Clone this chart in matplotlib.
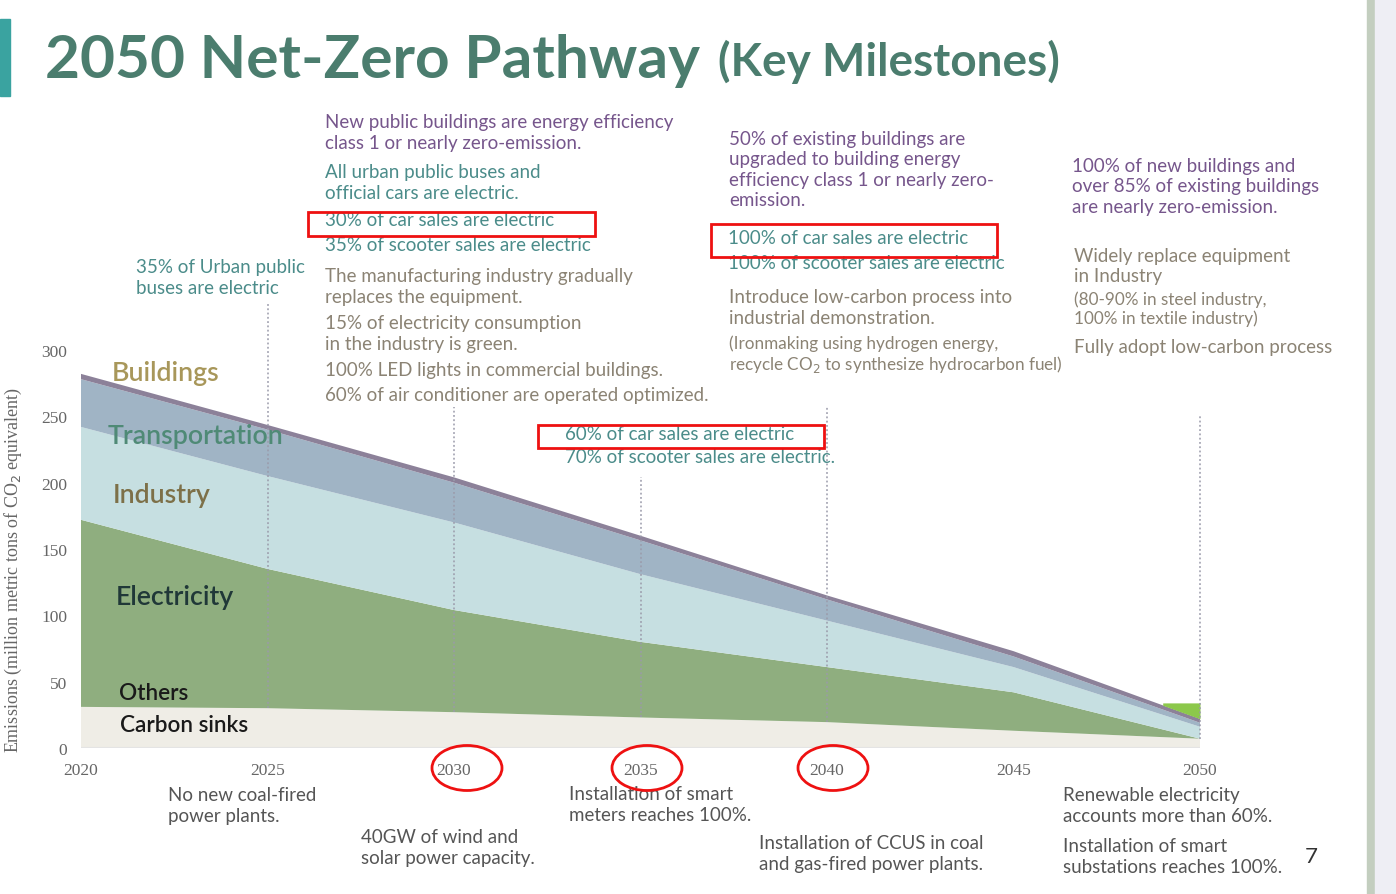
"""
2050 Net-Zero Pathway (key milestones) - stacked emissions by sector
"""

import matplotlib
matplotlib.use("Agg")
import matplotlib.pyplot as plt
import matplotlib.patches as mpatches
import numpy as np

W, H = 1396, 895

# ---- data (million metric tons CO2e) ----
years = [2020, 2025, 2030, 2035, 2040, 2045, 2050]
carbon_sinks   = [31, 30, 27, 23, 19.5, 13, 7]
electricity    = [141, 105, 77, 57, 41.5, 29, 0]
industry       = [70, 70, 66, 51, 35, 19, 9]
transportation = [36, 35, 30, 25.5, 16, 8, 3]
buildings      = [4, 3.5, 4, 3.5, 3, 4, 3]
sink_patch_top = 34          # bright green offset block at 2050
sink_patch_from = 2049

yticks = [0, 50, 100, 150, 200, 250, 300]
milestone_years = [2025, 2030, 2035, 2040, 2050]
milestone_tops  = [335, 257, 204, 257, 252]

COLORS = {
    "sinks":     "#efede6",
    "elec":      "#8fae7f",
    "industry":  "#c6dfe1",
    "transport": "#a0b4c5",
    "buildings": "#8c8199",
    "patch":     "#8cc84b",
    "title":     "#4b7d6e",
    "purple":    "#76568c",
    "teal":      "#4b8c8a",
    "grey":      "#8b8374",
    "dark":      "#555555",
    "red":       "#ee1111",
}

SANS = ["Lato", "DejaVu Sans"]
SERIF = ["Liberation Serif", "DejaVu Serif"]
NOTE_SIZE = 13.5
SMALL_SIZE = 12.3


def px(x, y):
    return x / W, 1 - y / H


def note(x, y, s, color, size=NOTE_SIZE, ls=1.27, **kw):
    fig.text(*px(x, y), s, color=color, fontsize=size, family=SANS,
             va="top", ha="left", linespacing=ls, **kw)


fig = plt.figure(figsize=(W / 100, H / 100), dpi=100)
fig.patch.set_facecolor("white")

# page decorations
fig.patches.append(mpatches.Rectangle(px(0, 97), 10 / W, 77 / H, transform=fig.transFigure,
                                      color="#3aa3a0", zorder=0))
fig.patches.append(mpatches.Rectangle(px(1367, 895), 8 / W, 1, transform=fig.transFigure,
                                      color="#c3cebf", zorder=0))
fig.patches.append(mpatches.Rectangle(px(1375, 895), 21 / W, 1, transform=fig.transFigure,
                                      color="#eeeef4", zorder=0))

# ---- main chart ----
ax = fig.add_axes([81 / W, 146 / H, (1200 - 81) / W, (749 - 351) / H])
ax.stackplot(years, carbon_sinks, electricity, industry, transportation, buildings,
             colors=[COLORS["sinks"], COLORS["elec"], COLORS["industry"],
                     COLORS["transport"], COLORS["buildings"]], lw=0)

top = np.sum([carbon_sinks, electricity, industry, transportation, buildings], axis=0)
top_at = np.interp([sink_patch_from, 2050], years, top)
ax.fill_between([sink_patch_from, 2050], top_at, sink_patch_top,
                color=COLORS["patch"], lw=0, zorder=3)

for yr, t in zip(milestone_years, milestone_tops):
    base = np.interp(yr, years, carbon_sinks)
    ax.plot([yr, yr], [base, t], color="#9a9aaa", lw=1.1, ls=(0, (1.2, 1.6)),
            clip_on=False, zorder=4)

ax.set_xlim(2020, 2050)
ax.set_ylim(0, 300)
ax.set_xticks(years)
ax.set_yticks(yticks)
ax.tick_params(length=0, labelsize=12.5, labelcolor="#666666", pad=10)
for lab in ax.get_xticklabels() + ax.get_yticklabels():
    lab.set_family(SERIF)
for s in ax.spines.values():
    s.set_visible(False)
ax.axhline(0, color="#e4e4e4", lw=1.5, zorder=5)
fig.text(*px(13, 570), "Emissions (million metric tons of CO$_2$ equivalent)", family=SERIF,
         fontsize=13, color="#666666", rotation=90, ha="center", va="center")

# sector labels
lab_kw = dict(fontsize=19.3, family=SANS, va="center", ha="left", fontweight="semibold")
fig.text(*px(112, 374), "Buildings", color="#a8975a", **lab_kw)
fig.text(*px(108, 437), "Transportation", color="#4f8a76", **lab_kw)
fig.text(*px(113, 496), "Industry", color="#7d7048", **lab_kw)
fig.text(*px(116, 598), "Electricity", color="#203838", **lab_kw)
fig.text(*px(119, 694), "Others", color="#1a1a1a", **{**lab_kw, "fontsize": 16.2})
fig.text(*px(120, 726), "Carbon sinks", color="#1a1a1a", **{**lab_kw, "fontsize": 16.2})

# ---- title ----
fig.text(*px(45, 78), "2050 Net-Zero Pathway", fontsize=43.5, fontweight="bold",
         family=SANS, color=COLORS["title"], va="baseline")
fig.text(*px(718, 76), "(Key Milestones)", fontsize=33, fontweight="bold",
         family=SANS, color=COLORS["title"], va="baseline")

# ---- milestone notes (top) ----
note(325, 114, "New public buildings are energy efficiency\nclass 1 or nearly zero-emission.", COLORS["purple"])
note(325, 164, "All urban public buses and\nofficial cars are electric.", COLORS["teal"])
note(325, 212, "30% of car sales are electric", COLORS["teal"])
note(325, 237, "35% of scooter sales are electric", COLORS["teal"])
note(325, 268, "The manufacturing industry gradually\nreplaces the equipment.", COLORS["grey"])
note(325, 315, "15% of electricity consumption\nin the industry is green.", COLORS["grey"])
note(325, 362, "100% LED lights in commercial buildings.", COLORS["grey"])
note(325, 387, "60% of air conditioner are operated optimized.", COLORS["grey"])

note(136, 259, "35% of Urban public\nbuses are electric", COLORS["teal"])

note(729, 131, "50% of existing buildings are\nupgraded to building energy\n"
     "efficiency class 1 or nearly zero-\nemission.", COLORS["purple"], ls=1.24)
note(728, 230, "100% of car sales are electric", COLORS["teal"])
note(728, 255, "100% of scooter sales are electric", COLORS["teal"])
note(729, 289, "Introduce low-carbon process into\nindustrial demonstration.", COLORS["grey"])
note(729, 335, "(Ironmaking using hydrogen energy,\nrecycle CO$_2$ to synthesize hydrocarbon fuel)",
     COLORS["grey"], size=SMALL_SIZE, ls=1.15)

note(1072, 158, "100% of new buildings and\nover 85% of existing buildings\nare nearly zero-emission.",
     COLORS["purple"], ls=1.24)
note(1074, 248, "Widely replace equipment\nin Industry", COLORS["grey"], ls=1.2)
note(1074, 291, "(80-90% in steel industry,\n100% in textile industry)", COLORS["grey"],
     size=SMALL_SIZE, ls=1.2)
note(1074, 339, "Fully adopt low-carbon process", COLORS["grey"])

note(565, 426, "60% of car sales are electric", COLORS["teal"])
note(565, 449, "70% of scooter sales are electric.", COLORS["teal"])

# ---- milestone notes (bottom) ----
note(168, 787, "No new coal-fired\npower plants.", COLORS["dark"])
note(361, 829, "40GW of wind and\nsolar power capacity.", COLORS["dark"])
note(569, 786, "Installation of smart\nmeters reaches 100%.", COLORS["dark"])
note(759, 835, "Installation of CCUS in coal\nand gas-fired power plants.", COLORS["dark"])
note(1063, 787, "Renewable electricity\naccounts more than 60%.", COLORS["dark"])
note(1063, 838, "Installation of smart\nsubstations reaches 100%.", COLORS["dark"])

fig.text(*px(1311, 857), "7", fontsize=16, family=SANS, color="#333333",
         ha="center", va="center")

# ---- red highlight marks ----
for x0, y0, x1, y1 in [(308, 213, 595, 237), (711, 225, 997, 258), (538, 426, 824, 449)]:
    fig.patches.append(mpatches.Rectangle(px(x0, y1), (x1 - x0) / W, (y1 - y0) / H,
                                          transform=fig.transFigure, fill=False,
                                          ec=COLORS["red"], lw=2, zorder=10))
for cx in [467, 647, 833]:
    fig.patches.append(mpatches.Ellipse(px(cx, 769), 70 / W, 45 / H,
                                        transform=fig.transFigure, fill=False,
                                        ec=COLORS["red"], lw=2, zorder=10))

fig.savefig("out.png", dpi=100)
